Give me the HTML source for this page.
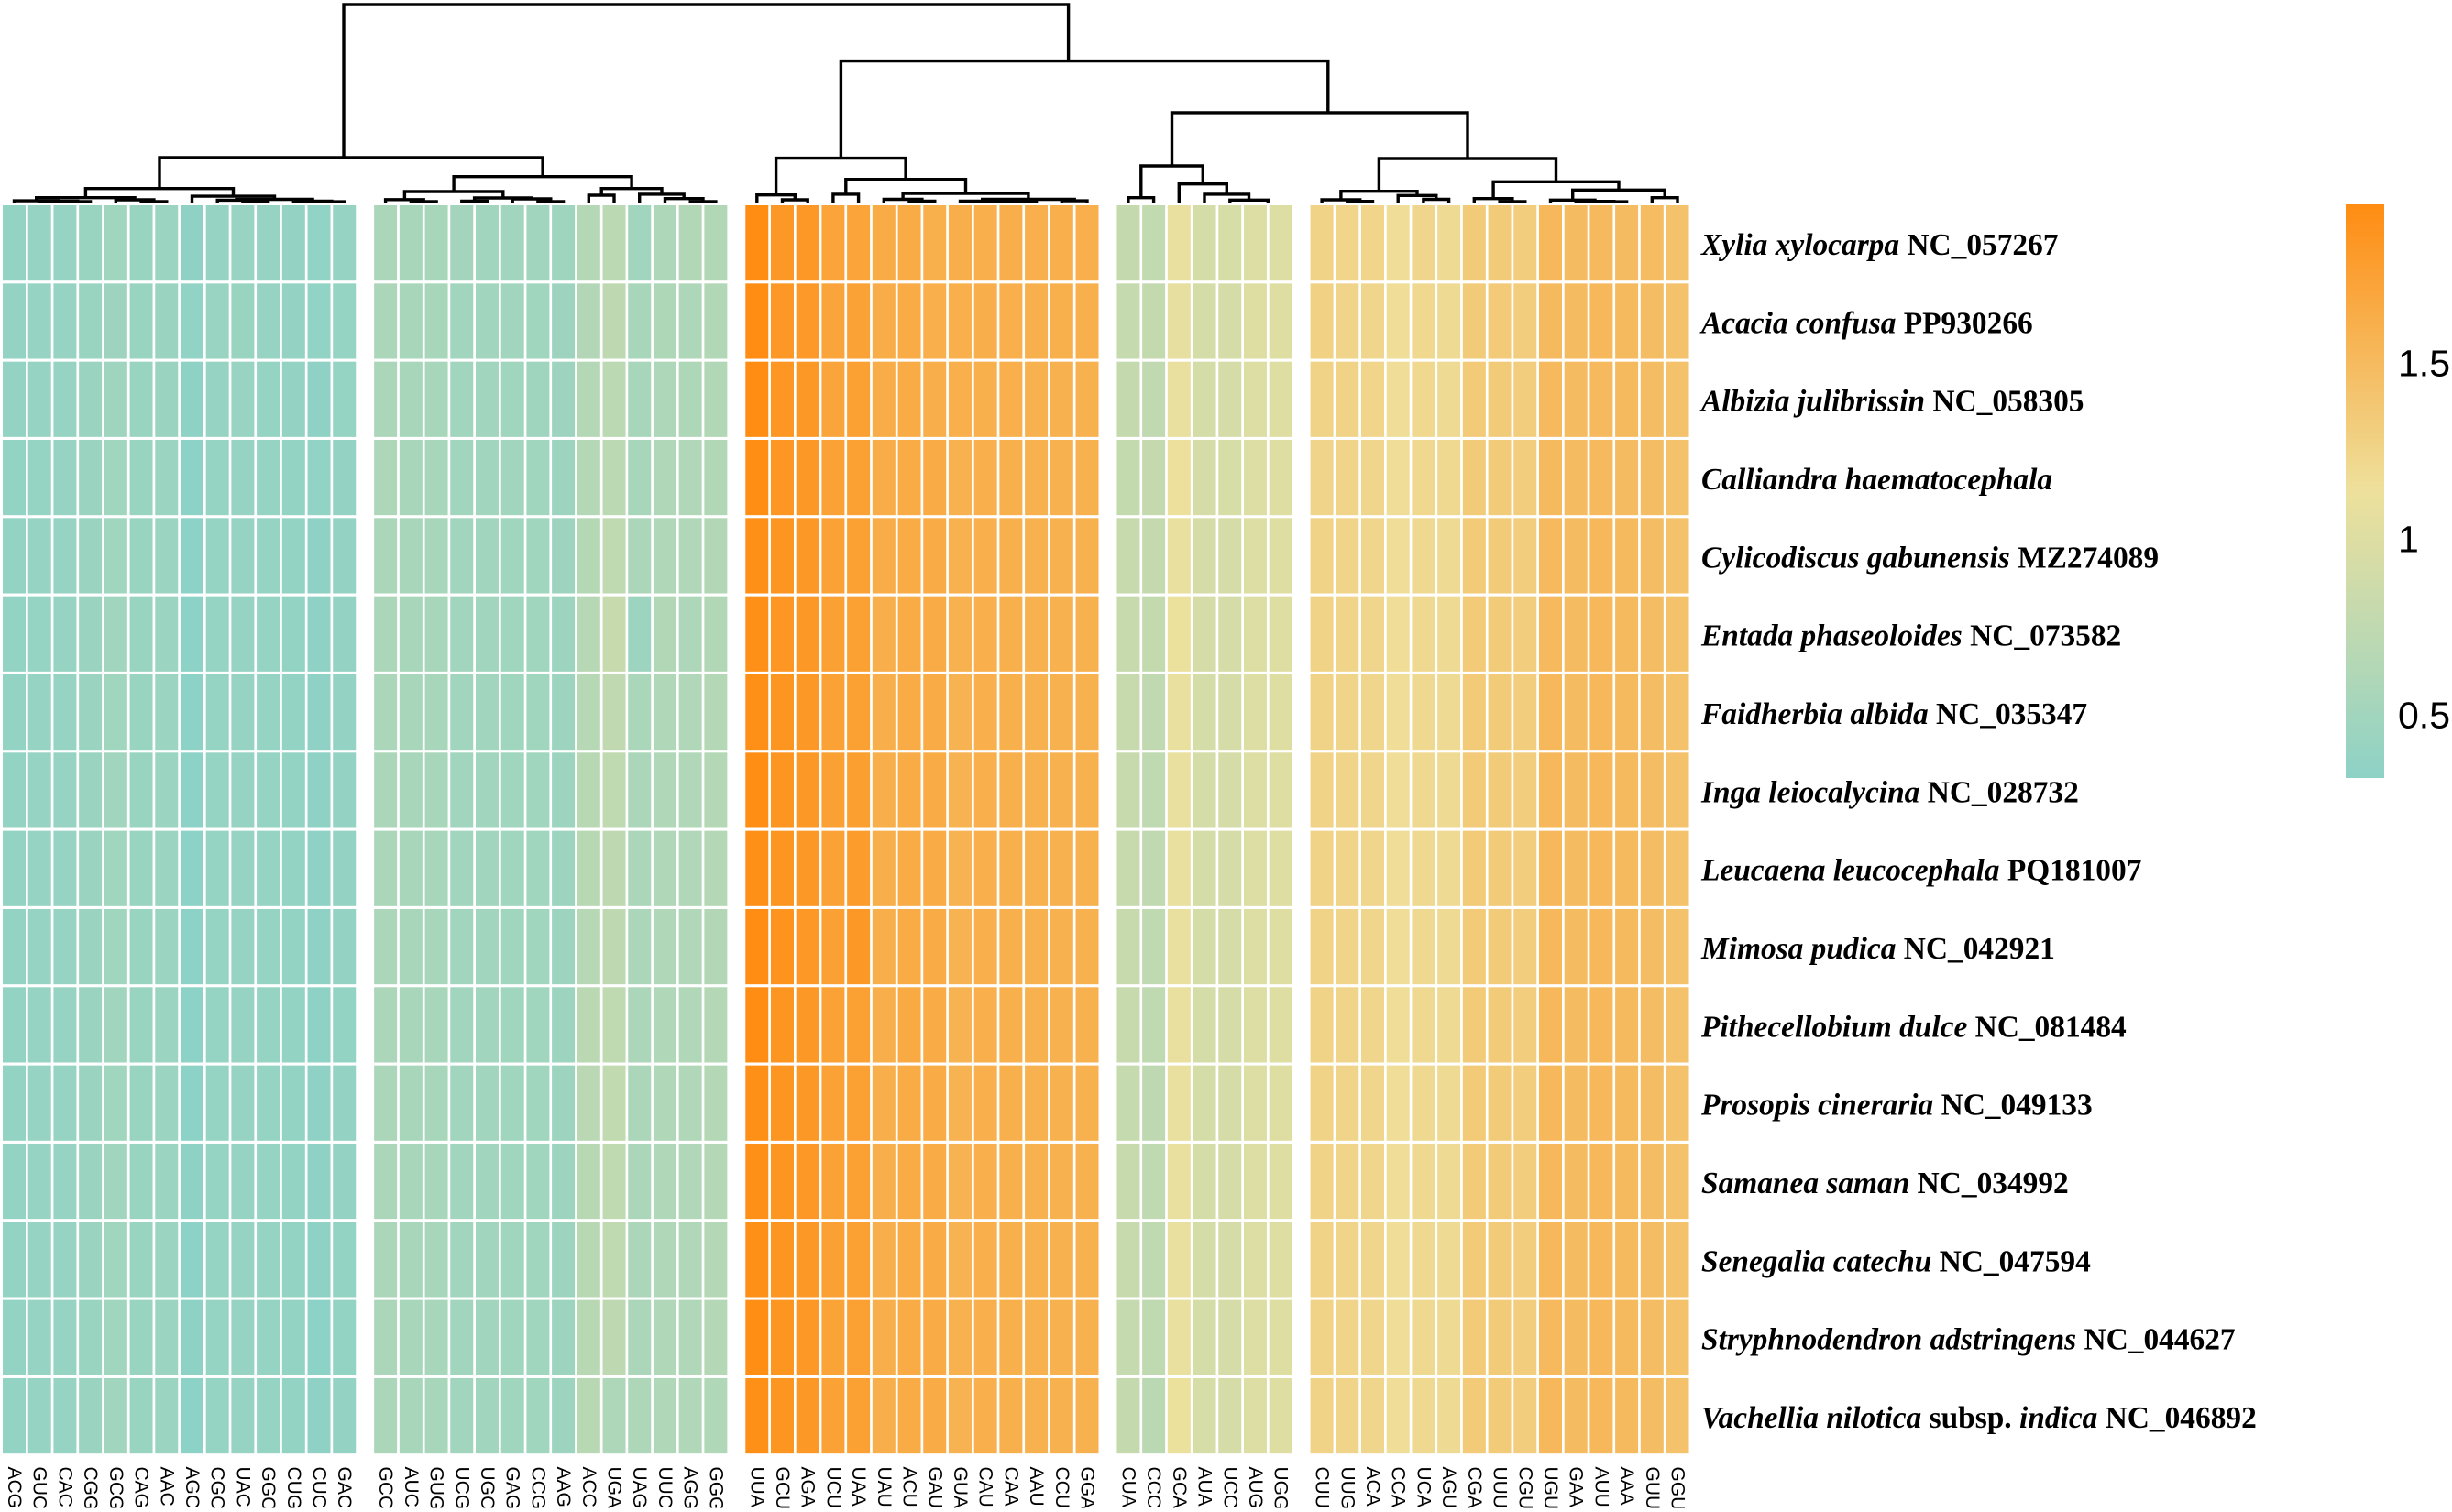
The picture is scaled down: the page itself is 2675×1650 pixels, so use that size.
<!DOCTYPE html>
<html lang="en">
<head>
<meta charset="utf-8">
<title>Codon usage heatmap</title>
<style>
  html, body { margin: 0; padding: 0; background: #ffffff; }
  #chart { display: block; width: 2675px; height: 1650px; background: #ffffff; }
  .row-label { font-family: "Liberation Serif", serif; font-weight: bold; font-size: 33.4px; fill: #000; white-space: pre; }
  .col-label { font-family: "Liberation Sans", sans-serif; font-size: 21px; fill: #000; }
  .legend-label { font-family: "Liberation Sans", sans-serif; font-size: 41px; fill: #000; }
</style>
</head>
<body>
<svg id="chart" xmlns="http://www.w3.org/2000/svg" width="2675" height="1650" viewBox="0 0 2675 1650">
  <defs>
    <linearGradient id="legend-gradient" x1="0" y1="1" x2="0" y2="0"></linearGradient>
    <clipPath id="col-label-clip"><rect x="0" y="1595" width="2675" height="50.5"></rect></clipPath>
  </defs>
  <g id="dendrogram"></g>
  <g id="cells"></g>
  <g id="row-labels"></g>
  <g id="col-labels" clip-path="url(#col-label-clip)"></g>
  <g id="legend"></g>
</svg>
<script>
const codons = [
  "ACG","GUC","CAC","CGG","GCG","CAG","AAC","AGC","CGC","UAC","GGC","CUG","CUC","GAC",
  "GCC","AUC","GUG","UCG","UGC","GAG","CCG","AAG","ACC","UGA","UAG","UUC","AGG","GGG",
  "UUA","GCU","AGA","UCU","UAA","UAU","ACU","GAU","GUA","CAU","CAA","AAU","CCU","GGA",
  "CUA","CCC","GCA","AUA","UCC","AUG","UGG",
  "CUU","UUG","ACA","CCA","UCA","AGU","CGA","UUU","CGU","UGU","GAA","AUU","AAA","GUU","GGU"
];
const clusterSizes = [14, 14, 14, 7, 15];
const speciesLabels = [
  "Xylia xylocarpa| NC_057267",
  "Acacia confusa| PP930266",
  "Albizia julibrissin| NC_058305",
  "Calliandra haematocephala",
  "Cylicodiscus gabunensis| MZ274089",
  "Entada phaseoloides| NC_073582",
  "Faidherbia albida| NC_035347",
  "Inga leiocalycina| NC_028732",
  "Leucaena leucocephala| PQ181007",
  "Mimosa pudica| NC_042921",
  "Pithecellobium dulce| NC_081484",
  "Prosopis cineraria| NC_049133",
  "Samanea saman| NC_034992",
  "Senegalia catechu| NC_047594",
  "Stryphnodendron adstringens| NC_044627",
  "Vachellia nilotica| subsp. |indica| NC_046892"
];
const rowValues = [
[.38,.41,.41,.43,.49,.43,.45,.35,.41,.42,.41,.39,.36,.41, .59,.55,.56,.52,.51,.50,.50,.48,.66,.72,.50,.60,.63,.63, 1.95,1.84,1.85,1.73,1.73,1.65,1.65,1.61,1.63,1.62,1.63,1.62,1.62,1.62, .79,.77,1.10,.93,.95,1.00,1.00, 1.27,1.25,1.25,1.17,1.24,1.20,1.35,1.35,1.33,1.53,1.50,1.52,1.50,1.49,1.44],
[.39,.41,.41,.43,.47,.43,.44,.36,.42,.43,.41,.39,.36,.40, .58,.55,.56,.50,.51,.50,.49,.47,.65,.74,.55,.61,.60,.63, 1.95,1.85,1.83,1.72,1.75,1.64,1.66,1.62,1.62,1.63,1.62,1.61,1.61,1.61, .80,.78,1.09,.93,.94,1.01,1.01, 1.28,1.26,1.24,1.17,1.22,1.20,1.35,1.36,1.33,1.51,1.50,1.53,1.51,1.48,1.44],
[.39,.41,.41,.44,.48,.43,.44,.34,.41,.42,.40,.39,.35,.40, .58,.55,.55,.51,.50,.49,.48,.47,.66,.72,.56,.60,.61,.64, 1.95,1.86,1.84,1.72,1.76,1.64,1.65,1.63,1.62,1.61,1.62,1.60,1.60,1.60, .79,.76,1.10,.93,.94,1.00,1.01, 1.27,1.27,1.25,1.17,1.22,1.20,1.36,1.35,1.33,1.52,1.50,1.52,1.51,1.48,1.44],
[.38,.40,.41,.44,.49,.43,.45,.33,.40,.41,.40,.38,.36,.39, .60,.56,.55,.51,.50,.50,.49,.46,.66,.72,.56,.62,.62,.64, 1.94,1.86,1.84,1.75,1.77,1.64,1.66,1.65,1.60,1.62,1.61,1.60,1.60,1.60, .78,.79,1.14,.94,.95,1.00,1.02, 1.26,1.26,1.24,1.17,1.22,1.21,1.35,1.35,1.33,1.51,1.50,1.52,1.50,1.48,1.44],
[.38,.41,.41,.44,.49,.43,.45,.33,.40,.41,.40,.38,.35,.39, .58,.56,.55,.50,.50,.49,.49,.47,.67,.75,.58,.62,.62,.65, 1.93,1.87,1.84,1.75,1.77,1.64,1.66,1.65,1.60,1.62,1.61,1.60,1.60,1.60, .81,.79,1.10,.94,.94,1.00,1.01, 1.27,1.26,1.24,1.17,1.21,1.20,1.36,1.35,1.33,1.52,1.50,1.53,1.51,1.48,1.44],
[.38,.40,.41,.44,.50,.43,.45,.33,.40,.41,.40,.38,.35,.39, .58,.55,.55,.50,.50,.49,.49,.46,.68,.82,.46,.64,.60,.64, 1.93,1.86,1.84,1.76,1.77,1.63,1.66,1.65,1.60,1.62,1.61,1.60,1.60,1.60, .82,.78,1.13,.94,.94,1.00,1.01, 1.27,1.26,1.24,1.17,1.21,1.20,1.36,1.35,1.33,1.52,1.50,1.53,1.51,1.48,1.44],
[.38,.41,.41,.44,.49,.43,.45,.33,.40,.41,.40,.38,.35,.39, .58,.56,.55,.50,.50,.49,.49,.46,.68,.76,.57,.62,.62,.66, 1.93,1.87,1.84,1.75,1.77,1.63,1.66,1.66,1.59,1.62,1.61,1.60,1.60,1.60, .82,.76,1.10,.93,.94,1.00,1.01, 1.27,1.26,1.24,1.17,1.21,1.20,1.36,1.35,1.33,1.53,1.50,1.53,1.51,1.48,1.44],
[.38,.41,.41,.44,.50,.43,.45,.33,.40,.41,.40,.38,.35,.39, .58,.56,.55,.50,.50,.49,.49,.46,.69,.75,.58,.62,.62,.66, 1.94,1.87,1.84,1.76,1.78,1.63,1.66,1.66,1.59,1.62,1.61,1.60,1.60,1.60, .82,.75,1.10,.93,.94,1.00,1.01, 1.27,1.26,1.24,1.17,1.21,1.20,1.36,1.35,1.33,1.53,1.50,1.53,1.51,1.48,1.44],
[.38,.41,.41,.44,.49,.43,.45,.33,.40,.41,.40,.38,.35,.39, .58,.56,.55,.50,.50,.49,.49,.46,.69,.74,.58,.62,.62,.66, 1.93,1.87,1.84,1.75,1.80,1.63,1.66,1.66,1.59,1.62,1.61,1.60,1.60,1.60, .81,.76,1.10,.93,.94,1.00,1.01, 1.27,1.26,1.24,1.17,1.21,1.20,1.36,1.35,1.33,1.53,1.50,1.53,1.51,1.48,1.44],
[.38,.41,.41,.44,.49,.43,.45,.33,.40,.41,.40,.38,.35,.39, .58,.56,.55,.50,.50,.49,.49,.46,.68,.74,.58,.62,.62,.65, 1.95,1.89,1.85,1.76,1.84,1.63,1.66,1.66,1.59,1.62,1.61,1.60,1.60,1.60, .82,.75,1.10,.93,.94,1.00,1.01, 1.27,1.26,1.24,1.17,1.21,1.20,1.36,1.35,1.33,1.53,1.50,1.53,1.51,1.48,1.44],
[.38,.41,.41,.44,.50,.43,.45,.33,.40,.41,.40,.37,.34,.38, .58,.56,.55,.50,.50,.49,.49,.46,.71,.75,.58,.62,.62,.66, 1.95,1.87,1.84,1.75,1.77,1.63,1.67,1.66,1.59,1.62,1.61,1.60,1.60,1.60, .82,.75,1.10,.93,.94,1.00,1.01, 1.27,1.26,1.24,1.17,1.21,1.20,1.36,1.35,1.33,1.53,1.50,1.53,1.51,1.48,1.44],
[.38,.41,.41,.44,.49,.43,.45,.33,.40,.41,.40,.38,.35,.39, .58,.56,.55,.50,.50,.49,.49,.46,.70,.77,.58,.62,.62,.66, 1.93,1.87,1.84,1.75,1.77,1.63,1.66,1.66,1.59,1.62,1.61,1.60,1.60,1.60, .80,.74,1.10,.93,.94,1.00,1.01, 1.27,1.26,1.24,1.17,1.21,1.20,1.36,1.35,1.33,1.53,1.50,1.53,1.51,1.48,1.44],
[.38,.41,.41,.44,.50,.43,.45,.34,.40,.41,.40,.38,.35,.39, .58,.56,.55,.50,.50,.49,.49,.46,.69,.75,.58,.62,.62,.66, 1.93,1.87,1.85,1.75,1.76,1.63,1.66,1.66,1.59,1.62,1.61,1.60,1.60,1.60, .81,.75,1.10,.93,.94,1.00,1.01, 1.27,1.26,1.24,1.17,1.21,1.20,1.36,1.35,1.33,1.53,1.50,1.53,1.51,1.48,1.44],
[.38,.41,.41,.44,.49,.43,.45,.33,.40,.41,.40,.38,.34,.38, .58,.56,.55,.50,.50,.49,.49,.46,.69,.75,.58,.62,.62,.66, 1.93,1.87,1.84,1.76,1.77,1.63,1.66,1.66,1.59,1.62,1.61,1.60,1.60,1.60, .82,.75,1.10,.93,.94,1.00,1.01, 1.27,1.26,1.24,1.17,1.21,1.20,1.36,1.35,1.33,1.53,1.50,1.53,1.51,1.48,1.44],
[.38,.41,.41,.43,.49,.43,.45,.34,.40,.41,.40,.37,.33,.37, .59,.56,.55,.50,.50,.49,.49,.46,.69,.74,.58,.62,.62,.66, 1.94,1.87,1.85,1.74,1.76,1.63,1.66,1.66,1.60,1.62,1.61,1.60,1.60,1.60, .80,.75,1.10,.93,.94,1.00,1.01, 1.27,1.26,1.24,1.17,1.21,1.20,1.36,1.35,1.33,1.52,1.50,1.53,1.51,1.48,1.44],
[.38,.41,.41,.44,.50,.43,.45,.33,.40,.41,.40,.38,.35,.39, .58,.56,.55,.50,.50,.49,.49,.46,.69,.60,.60,.62,.62,.62, 1.93,1.87,1.84,1.75,1.77,1.63,1.66,1.66,1.59,1.62,1.61,1.60,1.60,1.60, .79,.71,1.13,.95,.94,1.00,1.01, 1.27,1.26,1.24,1.17,1.21,1.20,1.36,1.35,1.33,1.53,1.50,1.53,1.51,1.48,1.44]
];
/* node name, left child, right child, merge height */
const dendroMerges = [
["g1a","CAC","CGG",.5],["g1b","GUC","g1a",.7],["g1c","ACG","g1b",.9],["g1d","CAG","AAC",.5],["g1e","GCG","g1d",1.4],["g1f","g1c","g1e",2.45],
["g1g","UAC","GGC",.5],["g1h","CGC","g1g",1.2],["g1i","CUC","GAC",.4],["g1j","CUG","g1i",.7],["g1k","g1h","g1j",1.6],["g1l","AGC","g1k",3.2],["g1m","g1f","g1l",7.1],
["g2a","AUC","GUG",.5],["g2b","GCC","g2a",1.5],["g2c","UCG","UGC",.7],["g2d","CCG","AAG",.5],["g2e","GAG","g2d",1.85],["g2f","g2c","g2e",2.3],["g2g","g2b","g2f",5.55],
["g2h","ACC","UGA",3.7],["g2i","AGG","GGG",.5],["g2j","UUC","g2i",2.0],["g2k","UAG","g2j",4.2],["g2l","g2h","g2k",7.1],["g2m","g2g","g2l",13.1],
["left","g1m","g2m",22.7],
["g3a","GCU","AGA",1.4],["g3b","UUA","g3a",3.85],["g3c","UCU","UAA",4.2],["g3d","ACU","GAU",.7],["g3e","UAU","g3d",1.6],["g3f","CAA","AAU",.4],["g3g","CAU","g3f",.6],["g3h","GUA","g3g",.7],
["g3i","CCU","GGA",.9],["g3j","g3h","g3i",1.6],["g3k","g3e","g3j",4.6],["g3l","g3c","g3k",11.7],["g3m","g3b","g3l",22.4],
["g4a","CUA","CCC",2.45],["g4b","AUG","UGG",0],["g4c","UCC","g4b",1.25],["g4d","AUA","g4c",4.2],["g4e","GCA","g4d",9.4],["g4f","g4a","g4e",18.5],
["g5a","UUG","ACA",.6],["g5b","CUU","g5a",1.4],["g5c","UCA","AGU",1.6],["g5d","CCA","g5c",3.55],["g5e","g5b","g5d",5.7],
["g5f","UUU","CGU",.5],["g5g","CGA","g5f",2.0],["g5h","AUU","AAA",.4],["g5i","GAA","g5h",.6],["g5j","UGU","g5i",1.25],["g5k","GUU","GGU",2.45],["g5l","g5j","g5k",6.35],["g5m","g5g","g5l",10.5],["g5n","g5e","g5m",22.2],
["g6","g4f","g5n",45.4],["right","g3m","g6",71.5],["root","left","right",100]
];
const legendTicks = [0.5, 1, 1.5];
const legendTickLabels = ["0.5", "1", "1.5"];

const NS = "http://www.w3.org/2000/svg";
const valueMin = 0.33, valueMax = 1.96;
const rampLow = [141, 210, 198], rampMid = [238, 224, 156], rampHigh = [255, 140, 18];
const colPitch = 27.71, clusterGap = 17.2, gridLeft = 3, cellWidth = 25;
const rowPitch = 85.33, gridTop = 224, cellHeight = 82.2;
const stemNudge = { left: -8, right: -17.5, g6: 9 };

function colorScale(v) {
  let t = (v - valueMin) / (valueMax - valueMin);
  t = Math.max(0, Math.min(1, t));
  const a = t < 0.5 ? rampLow : rampMid;
  const b = t < 0.5 ? rampMid : rampHigh;
  const u = t < 0.5 ? t * 2 : (t - 0.5) * 2;
  const c = [0, 1, 2].map(function (i) { return Math.round(a[i] + (b[i] - a[i]) * u); });
  return "rgb(" + c.join(",") + ")";
}
function colLeft(i) {
  let g = 0, acc = 0;
  for (let k = 0; k < clusterSizes.length; k++) {
    if (i >= acc + clusterSizes[k]) { acc += clusterSizes[k]; g = k + 1; } else break;
  }
  return gridLeft + colPitch * i + clusterGap * g;
}
function colCenter(i) { return colLeft(i) + cellWidth / 2; }
function rowTop(r) { return gridTop + rowPitch * r; }
function heightAxis(h) { return 221 - h * 2.16; }
function legendAxis(v) { return 850 - (v - valueMin) / (valueMax - valueMin) * 626; }
function make(tag, attrs) {
  const el = document.createElementNS(NS, tag);
  for (const k in attrs) el.setAttribute(k, attrs[k]);
  return el;
}

/* heatmap cells */
const cellsGroup = document.getElementById("cells");
rowValues.forEach(function (row, r) {
  row.forEach(function (v, c) {
    const cell = make("rect", { x: colLeft(c).toFixed(2), y: rowTop(r).toFixed(2), width: cellWidth, height: cellHeight, fill: colorScale(v) });
    
    
    cellsGroup.appendChild(cell);
  });
});

/* species labels */
const rowLabelGroup = document.getElementById("row-labels");
speciesLabels.forEach(function (label, r) {
  const text = make("text", { x: 1856, y: (rowTop(r) + 54).toFixed(2), "class": "row-label" });
  
  
  label.split("|").forEach(function (part, i) {
    const span = make("tspan", { "font-style": i % 2 === 0 ? "italic" : "normal" });
    span.textContent = part;
    text.appendChild(span);
  });
  rowLabelGroup.appendChild(text);
});

/* codon labels */
const colLabelGroup = document.getElementById("col-labels");
codons.forEach(function (codon, c) {
  const cx = colCenter(c), ty = 1600.5;
  const text = make("text", { x: cx.toFixed(2), y: ty, "class": "col-label", "dominant-baseline": "central", transform: "rotate(90 " + cx.toFixed(2) + " " + ty + ")" });
  
  
  text.textContent = codon;
  colLabelGroup.appendChild(text);
});

/* dendrogram */
const dendroGroup = document.getElementById("dendrogram");
const nodeX = {}, nodeH = {};
codons.forEach(function (codon, c) { nodeX[codon] = colCenter(c); nodeH[codon] = 0; });
dendroMerges.forEach(function (m) {
  const name = m[0], a = m[1], b = m[2], h = m[3];
  const xa = nodeX[a], xb = nodeX[b];
  nodeX[name] = (xa + xb) / 2 + (stemNudge[name] || 0);
  nodeH[name] = h;
  if (h <= 0) return;
  const d = "M" + xa.toFixed(1) + " " + heightAxis(nodeH[a]).toFixed(1) +
            "V" + heightAxis(h).toFixed(1) + "H" + xb.toFixed(1) + "V" + heightAxis(nodeH[b]).toFixed(1);
  const path = make("path", { d: d, fill: "none", stroke: "#000", "stroke-width": 3.4 });
  
  
  dendroGroup.appendChild(path);
});

/* legend */
const grad = document.getElementById("legend-gradient");
for (let i = 0; i <= 20; i++) {
  const v = valueMin + (valueMax - valueMin) * i / 20;
  grad.appendChild(make("stop", { offset: (i / 20).toFixed(2), "stop-color": colorScale(v) }));
}
const legendGroup = document.getElementById("legend");
const bar = make("rect", { x: 2559, y: legendAxis(valueMax) - 1, width: 42, height: legendAxis(valueMin) - legendAxis(valueMax), fill: "url(#legend-gradient)" });


legendGroup.appendChild(bar);
legendTicks.forEach(function (v, i) {
  const t = make("text", { x: 2616, y: (legendAxis(v) + 10).toFixed(1), "class": "legend-label" });
  
  
  t.textContent = legendTickLabels[i];
  legendGroup.appendChild(t);
});
</script>
</body>
</html>
